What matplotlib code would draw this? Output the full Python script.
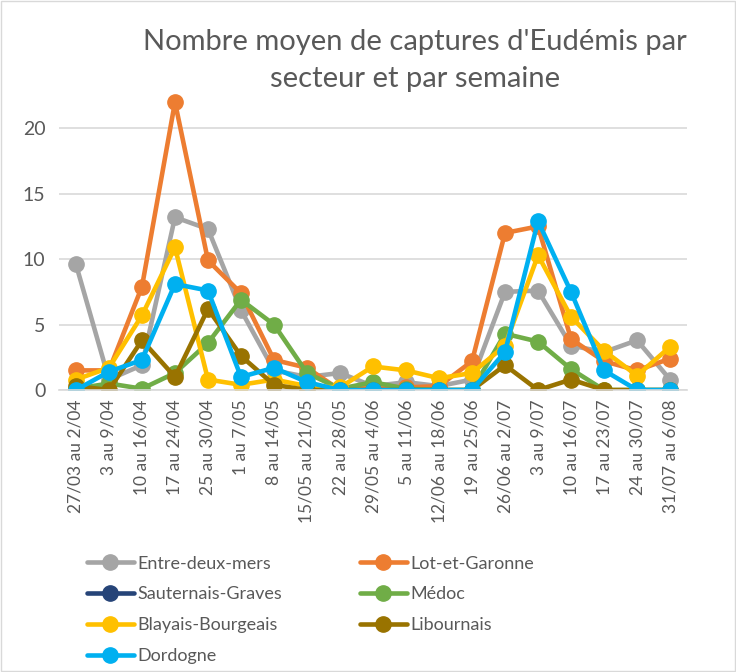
import numpy as np
import matplotlib
matplotlib.use("Agg")
import matplotlib.pyplot as plt
from matplotlib.patches import Rectangle

plt.rcParams['font.family'] = ['Lato', 'DejaVu Sans']

weeks = ['27/03 au 2/04', '3 au 9/04', '10 au 16/04', '17 au 24/04', '25 au 30/04',
         '1 au 7/05', '8 au 14/05', '15/05 au 21/05', '22 au 28/05', '29/05 au 4/06',
         '5 au 11/06', '12/06 au 18/06', '19 au 25/06', '26/06 au 2/07', '3 au 9/07',
         '10 au 16/07', '17 au 23/07', '24 au 30/07', '31/07 au 6/08']

entre_deux_mers = [9.6, 0.8, 1.9, 13.2, 12.3, 6.1, 1.5, 1.0, 1.3, 0.3, 0.6, 0.3, 0.8,
                   7.5, 7.6, 3.4, 2.9, 3.8, 0.8]
lot_et_garonne = [1.5, 1.5, 7.9, 22.0, 9.9, 7.4, 2.3, 1.7, 0.0, 0.3, 0.2, 0.3, 2.2,
                  12.0, 12.5, 3.9, 2.2, 1.5, 2.4]
sauternais_graves = [np.nan] * 19
medoc = [0.1, 0.5, 0.1, 1.3, 3.6, 6.9, 5.0, 1.3, 0.1, 0.6, 0.1, 0.0, 0.0,
         4.3, 3.7, 1.6, 0.0, 0.0, 0.0]
blayais_bourgeais = [0.8, 1.7, 5.7, 10.9, 0.8, 0.4, 0.8, 0.3, 0.2, 1.8, 1.5, 0.9, 1.3,
                     3.4, 10.3, 5.6, 3.0, 1.1, 3.3]
libournais = [0.3, 0.0, 3.8, 1.0, 6.2, 2.6, 0.4, 0.0, 0.0, 0.0, 0.0, 0.0, 0.0,
              1.9, 0.0, 0.8, 0.0, 0.0, 0.0]
dordogne = [0.0, 1.4, 2.3, 8.1, 7.6, 1.0, 1.7, 0.6, 0.0, 0.0, 0.0, 0.0, 0.0,
            2.9, 12.9, 7.5, 1.5, 0.0, 0.0]

series = [
    ('Entre-deux-mers', entre_deux_mers, '#A5A5A5'),
    ('Lot-et-Garonne', lot_et_garonne, '#ED7D31'),
    ('Sauternais-Graves', sauternais_graves, '#264478'),
    ('Médoc', medoc, '#70AD47'),
    ('Blayais-Bourgeais', blayais_bourgeais, '#FFC000'),
    ('Libournais', libournais, '#997300'),
    ('Dordogne', dordogne, '#00B0F0'),
]

fig = plt.figure(figsize=(7.36, 6.72), dpi=100)
ax = fig.add_axes([0.0808, 0.4196, 0.852, 0.448])

x = np.arange(len(weeks))
lines = {}
for name, vals, col in series:
    l, = ax.plot(x, vals, color=col, lw=3.3, marker='o', markersize=11,
                 label=name, solid_capstyle='round')
    lines[name] = l

ax.set_xlim(-0.5, len(weeks) - 0.5)
ax.set_ylim(0, 23)
ax.set_yticks([0, 5, 10, 15, 20])
ax.set_xticks(x)
ax.set_xticklabels(weeks, rotation=90)
ax.tick_params(axis='both', length=0, colors='#595959')
ax.tick_params(axis='y', labelsize=14, pad=10)
ax.tick_params(axis='x', labelsize=12.5, pad=7)
ax.grid(axis='y', color='#D9D9D9', lw=1.2)
ax.set_axisbelow(True)
for s in ['top', 'right', 'left']:
    ax.spines[s].set_visible(False)
ax.spines['bottom'].set_color('#D9D9D9')
ax.spines['bottom'].set_linewidth(1.2)

fig.text(0.564, 0.938, "Nombre moyen de captures d'Eudémis par", ha='center', va='center',
         fontsize=21, color='#595959')
fig.text(0.564, 0.882, "secteur et par semaine", ha='center', va='center',
         fontsize=21, color='#595959')

order = ['Entre-deux-mers', 'Sauternais-Graves', 'Blayais-Bourgeais', 'Dordogne',
         'Lot-et-Garonne', 'Médoc', 'Libournais']
fig.legend([lines[n] for n in order], order, ncol=2, loc='upper left',
           bbox_to_anchor=(0.108, 0.184), frameon=False, fontsize=13,
           labelcolor='#595959', handlelength=2.6, handletextpad=0.2,
           columnspacing=4.3, labelspacing=0.82, borderaxespad=0)

fig.patches.append(Rectangle((0.002, 0.002), 0.996, 0.996, transform=fig.transFigure,
                             fill=False, ec='#D9D9D9', lw=1))

fig.savefig('out.png', dpi=100)
